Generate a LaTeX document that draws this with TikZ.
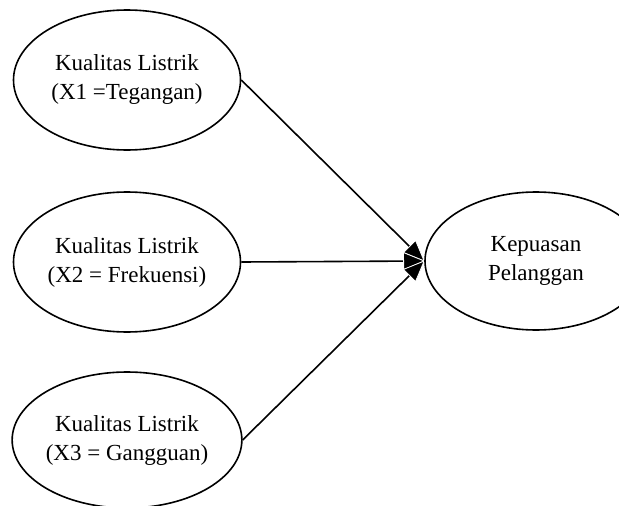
\documentclass[tikz,border=0pt]{standalone}
\usepackage{fontspec}
\setmainfont{Liberation Serif}
\usetikzlibrary{shapes.geometric,arrows.meta}
\pgfdeclarelayer{background}
\pgfsetlayers{background,main}
\tikzset{
  var/.style={draw, ellipse, line width=1.6pt, inner sep=0pt, minimum width=227pt, minimum height=140pt,
    align=center, font=\fontsize{23}{29}\selectfont},
  link/.style={line width=1.6pt, -{Triangle[length=22pt,width=18pt,fill=black,color=white,line width=0.8pt]}, shorten >=-1pt}
}
\begin{document}
\begin{tikzpicture}[x=1pt,y=-1pt]
\useasboundingbox (0,0) rectangle (619,506);
\clip (0,0) rectangle (619,506);
\node[var] (x1) at (127,80) {Kualitas Listrik\\(X1 =Tegangan)};
\node[var] (x2) at (127,262) {Kualitas Listrik\\(X2 = Frekuensi)};
\node[var, minimum height=136pt] (x3) at (127,440) {Kualitas Listrik\\(X3 = Gangguan)};
\node[var, minimum width=222pt, minimum height=138pt] (y) at (536,261) {Kepuasan\\Pelanggan};
\begin{pgfonlayer}{background}
\draw[link] (x1.east) -- (y.west);
\draw[link] (x2.east) -- (y.west);
\draw[link] (x3.east) -- (y.west);
\end{pgfonlayer}
\end{tikzpicture}
\end{document}
